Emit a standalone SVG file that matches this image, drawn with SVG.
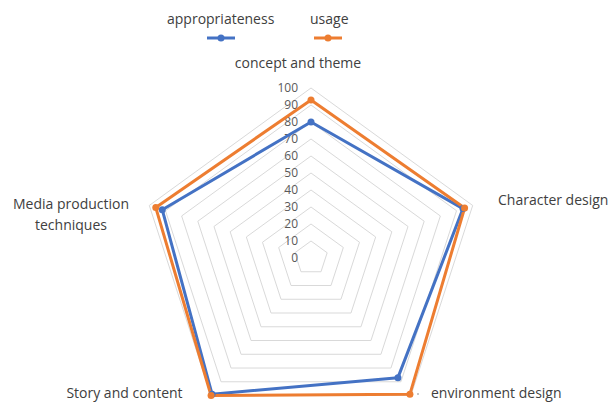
<svg xmlns="http://www.w3.org/2000/svg" width="609" height="402" viewBox="0 0 609 402">
<style>
.grid{fill:none;stroke:#d9d9d9;stroke-width:1}
.tick{font-family:"Open Sans","Liberation Sans",sans-serif;font-size:12px;fill:#595959;text-anchor:end}
.lbl{font-family:"Open Sans","Liberation Sans",sans-serif;font-size:14px;fill:#404040}
.blue{fill:none;stroke:#4472c4;stroke-width:3;stroke-linejoin:round}
.orange{fill:none;stroke:#ed7d31;stroke-width:3;stroke-linejoin:round}
.bdot{fill:#4472c4}
.odot{fill:#ed7d31}
</style>
<rect width="609" height="402" fill="#ffffff"/>
<g id="grid">
<polygon class="grid" points="311,241 327.17,252.75 320.99,271.75 301.01,271.75 294.83,252.75"/>
<polygon class="grid" points="311,224 343.34,247.49 330.99,285.51 291.01,285.51 278.66,247.49"/>
<polygon class="grid" points="311,207 359.51,242.24 340.98,299.26 281.02,299.26 262.49,242.24"/>
<polygon class="grid" points="311,190 375.67,236.99 350.97,313.01 271.03,313.01 246.33,236.99"/>
<polygon class="grid" points="311,173 391.84,231.74 360.96,326.77 261.04,326.77 230.16,231.74"/>
<polygon class="grid" points="311,156 408.01,226.48 370.96,340.52 251.04,340.52 213.99,226.48"/>
<polygon class="grid" points="311,139 424.18,221.23 380.95,354.27 241.05,354.27 197.82,221.23"/>
<polygon class="grid" points="311,122 440.35,215.98 390.94,368.02 231.06,368.02 181.65,215.98"/>
<polygon class="grid" points="311,105 456.52,210.73 400.93,381.78 221.07,381.78 165.48,210.73"/>
<polygon class="grid" points="311,88 472.69,205.47 410.93,395.53 211.07,395.53 149.31,205.47"/>
</g>
<g id="ticks">
<text class="tick" x="298" y="262">0</text>
<text class="tick" x="298" y="245">10</text>
<text class="tick" x="298" y="228">20</text>
<text class="tick" x="298" y="211">30</text>
<text class="tick" x="298" y="194">40</text>
<text class="tick" x="298" y="177">50</text>
<text class="tick" x="298" y="160">60</text>
<text class="tick" x="298" y="143">70</text>
<text class="tick" x="298" y="126">80</text>
<text class="tick" x="298" y="109">90</text>
<text class="tick" x="298" y="92">100</text>
</g>
<g id="connectors">
<polygon id="series-appropriateness" class="blue" points="311,122 462.99,208.62 397.94,377.65 212.07,394.15 162.25,209.67"/>
<polygon id="series-usage" class="orange" points="311,99.9 464.6,208.1 409.93,394.15 211.07,395.53 155.78,207.57"/>
</g>
<g id="markers">
<circle class="bdot" cx="311" cy="122" r="3.5"/>
<circle class="bdot" cx="462.99" cy="208.62" r="3.5"/>
<circle class="bdot" cx="397.94" cy="377.65" r="3.5"/>
<circle class="bdot" cx="212.07" cy="394.15" r="3.5"/>
<circle class="bdot" cx="162.25" cy="209.67" r="3.5"/>
<circle class="odot" cx="311" cy="99.9" r="3.5"/>
<circle class="odot" cx="464.6" cy="208.1" r="3.5"/>
<circle class="odot" cx="409.93" cy="394.15" r="3.5"/>
<circle class="odot" cx="211.07" cy="395.53" r="3.5"/>
<circle class="odot" cx="155.78" cy="207.57" r="3.5"/>
</g>
<g id="legend">
<text class="lbl" x="167" y="24">appropriateness</text>
<line x1="207" y1="38" x2="235" y2="38" stroke="#4472c4" stroke-width="3"/>
<circle class="bdot" cx="221" cy="38" r="3.5"/>
<text class="lbl" x="310" y="24">usage</text>
<line x1="314" y1="38" x2="342" y2="38" stroke="#ed7d31" stroke-width="3"/>
<circle class="odot" cx="328" cy="38" r="3.5"/>
</g>
<g id="node-concept"><text class="lbl" x="298" y="68" text-anchor="middle">concept and theme</text></g>
<g id="node-character"><text class="lbl" x="498" y="205">Character design</text></g>
<g id="node-environment"><circle cx="418" cy="394" r="0.8" fill="#808080"/><text class="lbl" x="431" y="398">environment design</text></g>
<g id="node-story"><text class="lbl" x="124.5" y="398" text-anchor="middle">Story and content</text></g>
<g id="node-media"><text class="lbl" x="71" y="209" text-anchor="middle">Media production</text><text class="lbl" x="71" y="230" text-anchor="middle">techniques</text></g>
</svg>
